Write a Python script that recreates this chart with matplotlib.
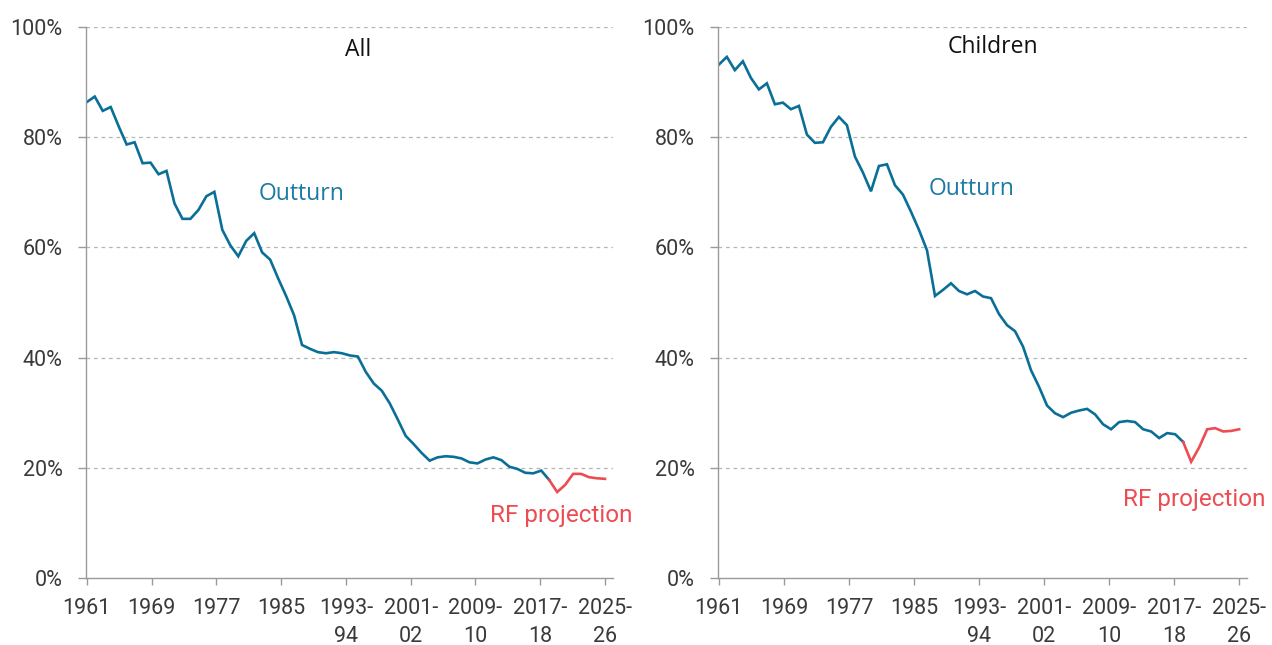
import matplotlib
matplotlib.use("Agg")
import matplotlib.pyplot as plt
import numpy as np

# Share of the population (%) - annual from 1961, then financial years
all_values = [86.4, 87.4, 84.8, 85.5, 82.0, 78.7, 79.1, 75.3, 75.4, 73.3,
              73.9, 68.0, 65.2, 65.2, 66.8, 69.3, 70.1, 63.2, 60.4, 58.4,
              61.2, 62.6, 59.1, 57.8, 54.4, 51.2, 47.7, 42.3, 41.6, 41.0,
              40.8, 41.0, 40.8, 40.4, 40.2, 37.4, 35.3, 34.0, 31.7, 28.8,
              25.8, 24.3, 22.7, 21.3, 21.9, 22.1, 22.0, 21.7, 21.0, 20.8,
              21.5, 21.9, 21.4, 20.2, 19.8, 19.1, 19.0, 19.5, 17.8, 15.6,
              16.9, 18.9, 18.9, 18.3, 18.1, 18.0]
children_values = [93.2, 94.6, 92.2, 93.8, 90.8, 88.7, 89.8, 86.0, 86.3, 85.1,
                   85.7, 80.5, 79.0, 79.1, 81.9, 83.7, 82.2, 76.5, 73.6, 70.2,
                   74.8, 75.1, 71.3, 69.6, 66.5, 63.2, 59.5, 51.2, 52.3, 53.5,
                   52.1, 51.5, 52.1, 51.1, 50.8, 47.9, 45.9, 44.8, 42.0, 37.7,
                   34.7, 31.3, 29.9, 29.2, 30.0, 30.4, 30.7, 29.7, 27.9, 27.0,
                   28.3, 28.5, 28.3, 27.0, 26.6, 25.4, 26.3, 26.1, 24.7, 21.1,
                   23.7, 27.0, 27.2, 26.6, 26.7, 27.0]
last_outturn = 58  # index of last outturn point, projection starts here

tick_labels = ["1961", "1969", "1977", "1985", "1993-\n94", "2001-\n02",
               "2009-\n10", "2017-\n18", "2025-\n26"]
y_ticks = [0, 20, 40, 60, 80, 100]

blue = "#0a6f97"
red = "#ee4c53"
grey = "#9a9a9a"
tick_font = ["Roboto", "DejaVu Sans"]

fig = plt.figure(figsize=(12.72, 6.45), dpi=100)
ax1 = fig.add_axes([0.0676, 0.1039, 0.4143, 0.854])
ax2 = fig.add_axes([0.5645, 0.1039, 0.416, 0.854])

panels = [
    (ax1, all_values, "All", (34, 95.8), (27, 69.7), (59.5, 11.3)),
    (ax2, children_values, "Children", (34.3, 96.4), (31.6, 70.6), (59.4, 14.3)),
]

for ax, values, title, title_pos, out_pos, proj_pos in panels:
    n = len(values)
    x = np.arange(n)
    ax.plot(x[:last_outturn + 1], values[:last_outturn + 1], color=blue,
            lw=1.9, solid_joinstyle="miter")
    ax.plot(x[last_outturn:], values[last_outturn:], color=red,
            lw=1.9, solid_joinstyle="miter")

    ax.set_ylim(0, 100)
    ax.set_xlim(-0.1, n)
    ax.set_yticks(y_ticks)
    ax.set_yticklabels([f"{v}%" for v in y_ticks])
    ax.set_xticks(np.arange(len(tick_labels)) * (n - 1) / (len(tick_labels) - 1))
    ax.set_xticklabels(tick_labels, linespacing=1.45)

    for v in y_ticks[1:]:
        ax.axhline(v, color="#b5b5b5", lw=0.9, ls=(0, (3, 3)), zorder=0)

    for side in ["top", "right"]:
        ax.spines[side].set_visible(False)
    for side in ["left", "bottom"]:
        ax.spines[side].set_color(grey)
        ax.spines[side].set_linewidth(1.0)
    ax.tick_params(axis="both", colors=grey, width=1.0)
    for lab in ax.get_xticklabels() + ax.get_yticklabels():
        lab.set_color("#3a3a3a")
        lab.set_fontsize(15.5)
        lab.set_family(tick_font)
    ax.tick_params(axis="y", length=5.8, pad=11)
    ax.tick_params(axis="x", length=5, pad=9.5)

    ax.text(*title_pos, title, fontsize=16.5, color="#111111", ha="center",
            va="center", family=["Open Sans", "DejaVu Sans"])
    ax.text(*out_pos, "Outturn", fontsize=16.5, color="#1c7aa3", ha="center",
            va="center", family=["Open Sans", "DejaVu Sans"])
    ax.text(*proj_pos, "RF projection", fontsize=17.5, color=red, ha="center",
            va="center", family=["Roboto", "DejaVu Sans"], clip_on=False)

fig.savefig("out.png", dpi=100)
